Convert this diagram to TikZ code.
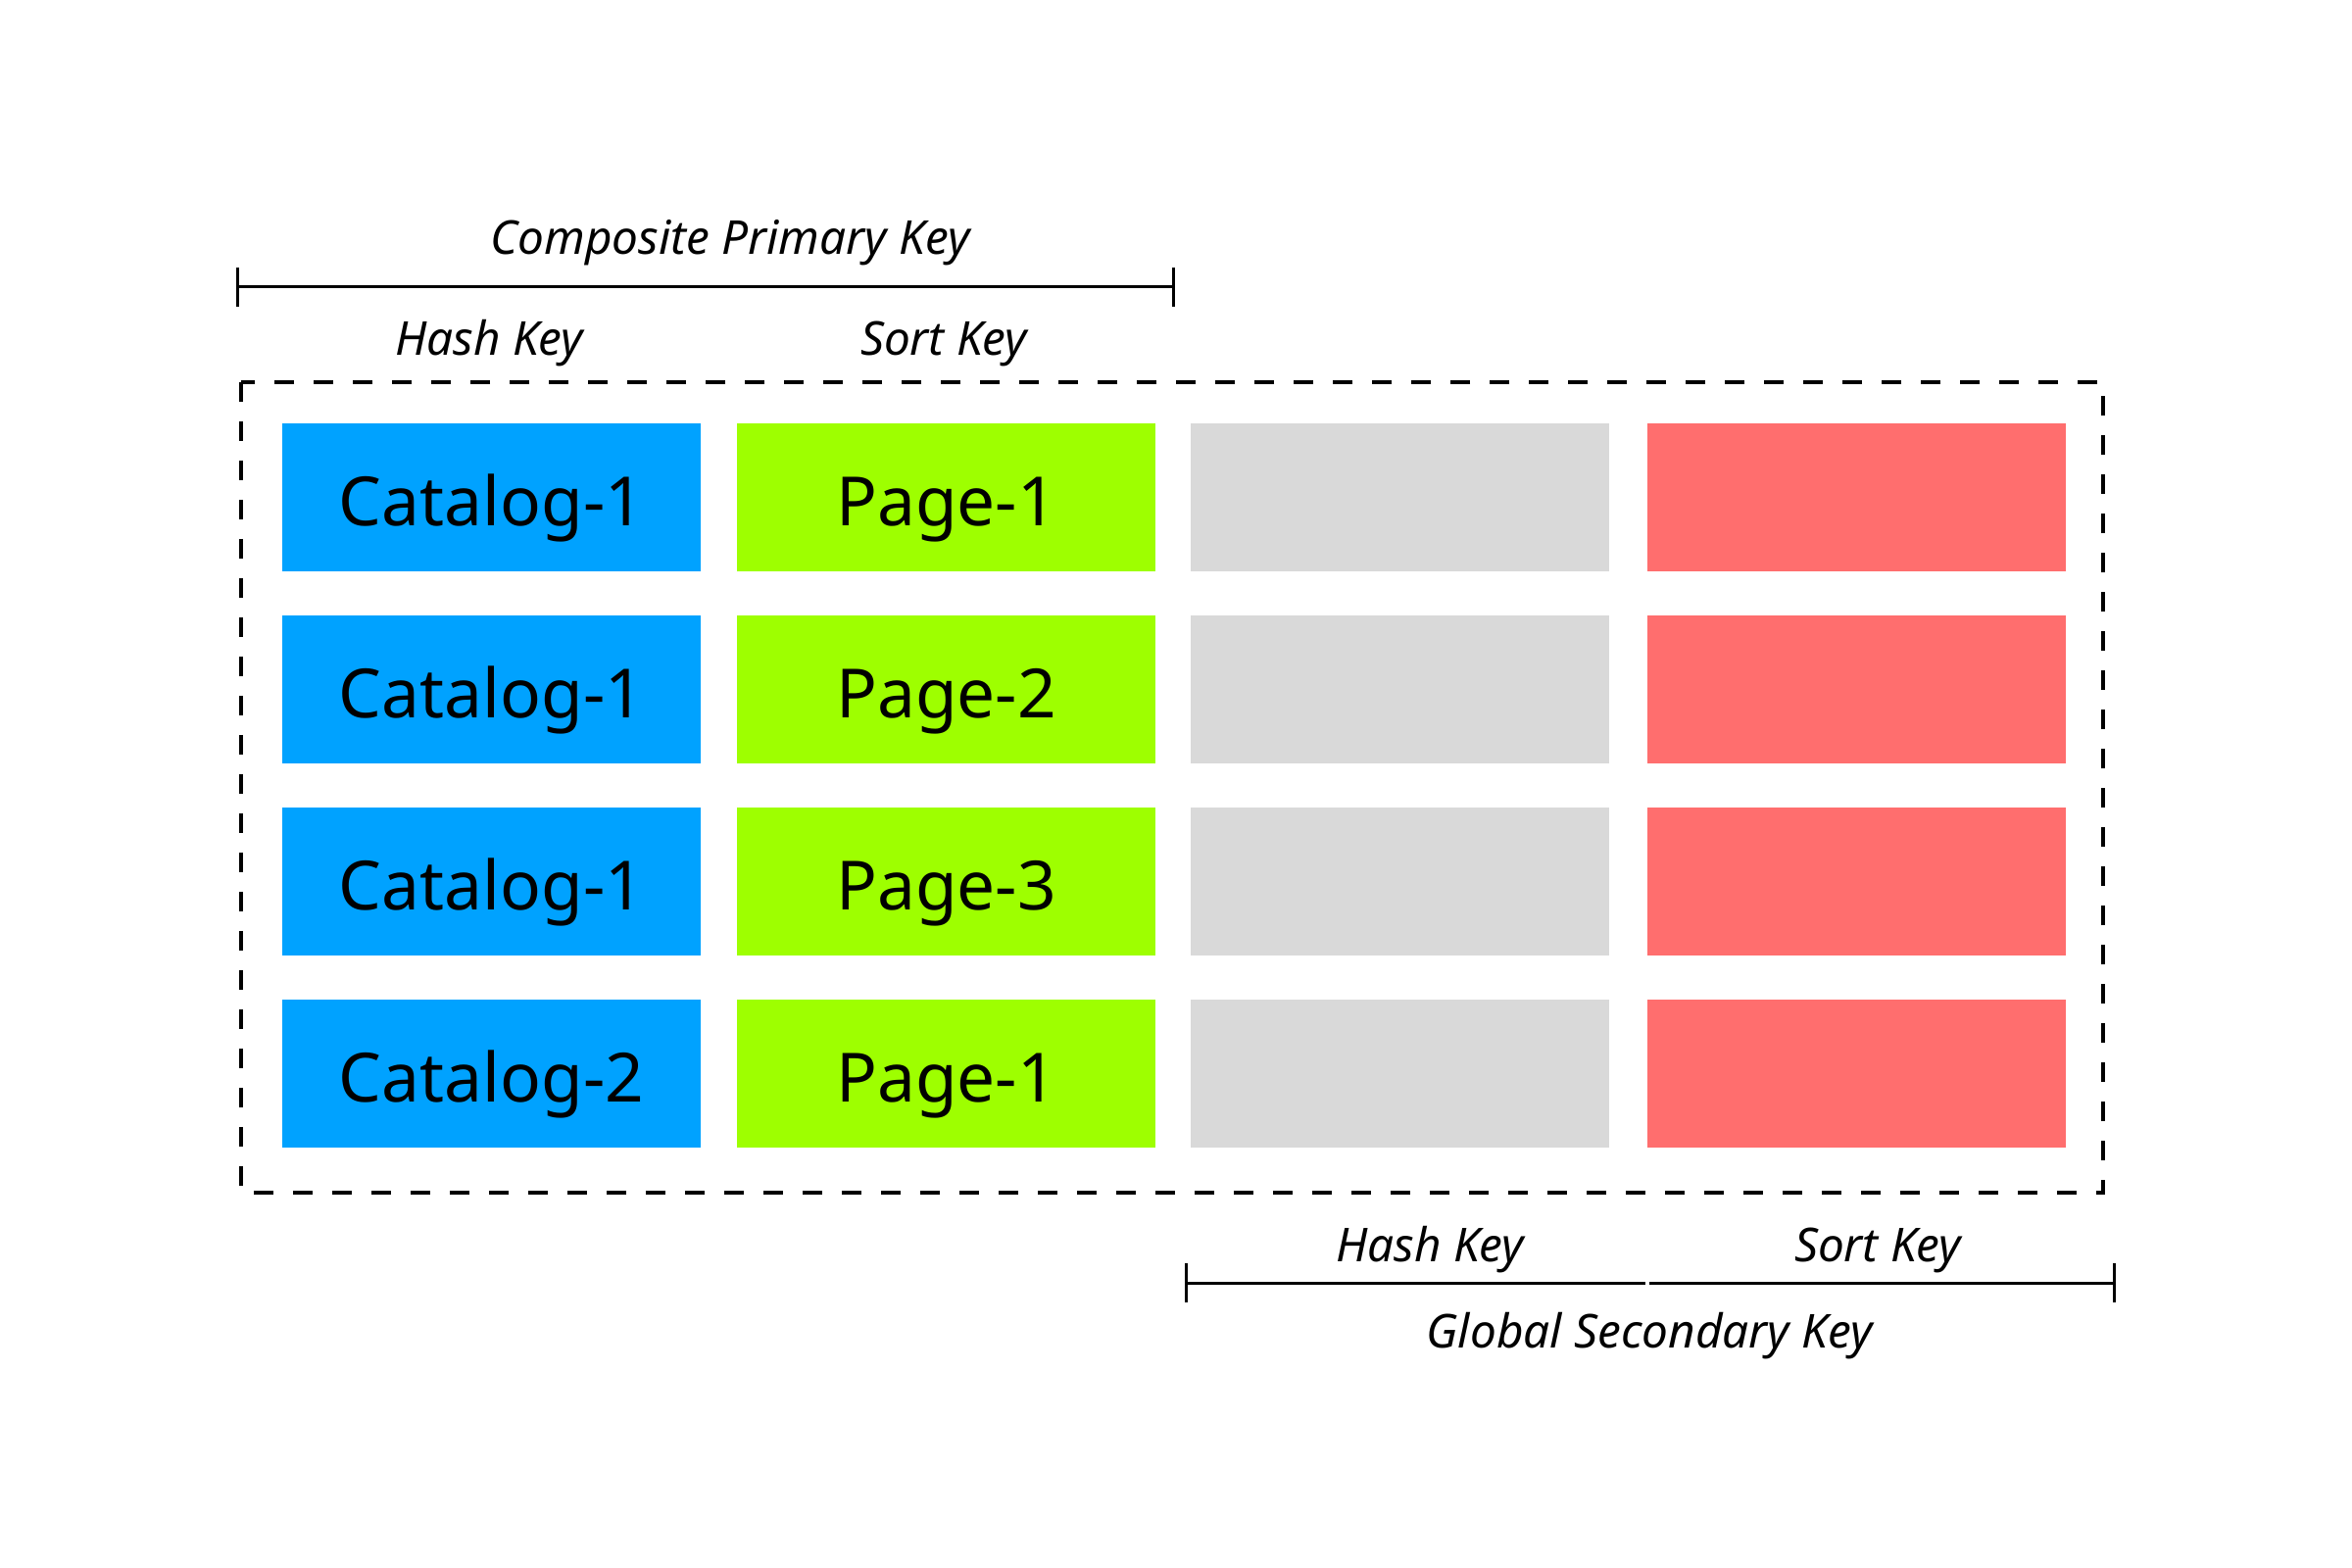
\documentclass[tikz,border=0pt]{standalone}
\usepackage{fontspec}
\setmainfont{Noto Sans}
\definecolor{cblue}{RGB}{0,162,255}
\definecolor{cgreen}{RGB}{158,255,0}
\definecolor{cgrey}{RGB}{217,217,217}
\definecolor{cred}{RGB}{255,110,110}
\begin{document}
\begin{tikzpicture}[x=0.3pt,y=-0.3pt,
  cell/.style={minimum width=128.1pt, minimum height=45.3pt, inner sep=0pt, draw=none,
    text height=17.7pt, text depth=0pt,
    font=\fontsize{20.8}{25}\selectfont, text=black},
  lbl/.style={anchor=base, inner sep=0pt, font=\fontsize{14.3}{17}\selectfont\itshape},
  bracketline/.style={line width=0.9pt},
  frame/.style={dash pattern=on 6pt off 6pt, line width=1.2pt}]
\useasboundingbox (0,0) rectangle (2400,1600);
\fill[white] (0,0) rectangle (2400,1600);

% dashed frame
\coordinate (fTL) at (246,390);
\coordinate (fBR) at (2146,1217);
\draw[frame] (fTL) rectangle (fBR);

% cells
\foreach \r/\y/\a/\b in {1/507.5/Catalog-1/Page-1, 2/703.5/Catalog-1/Page-2, 3/899/Catalog-1/Page-3, 4/1095/Catalog-2/Page-1}{
  \node[cell, fill=cblue] (h\r) at (501.5,\y) {\a};
  \node[cell, fill=cgreen] (s\r) at (965.5,\y) {\b};
  \node[cell, fill=cgrey] (g\r) at (1428.5,\y) {};
  \node[cell, fill=cred] (k\r) at (1894,\y) {};
}

% top bracket
\coordinate (pkL) at (242,293);
\coordinate (pkR) at (1197,293);
\draw[bracketline] (pkL) -- (pkR);
\draw[bracketline] ([yshift=6pt]pkL) -- ([yshift=-6pt]pkL);
\draw[bracketline] ([yshift=6pt]pkR) -- ([yshift=-6pt]pkR);
\node[lbl] (cpk) at (745,260) {Composite Primary Key};
\node[lbl] (hk1) at (499,363) {Hash Key};
\node[lbl] (sk1) at (963,363) {Sort Key};

% bottom bracket
\coordinate (gL) at (1210,1309);
\coordinate (gM1) at (1679,1309);
\coordinate (gM2) at (1683,1309);
\coordinate (gR) at (2157,1309);
\draw[bracketline] (gL) -- (gM1);
\draw[bracketline] (gM2) -- (gR);
\draw[bracketline] ([yshift=6pt]gL) -- ([yshift=-6pt]gL);
\draw[bracketline] ([yshift=6pt]gR) -- ([yshift=-6pt]gR);
\node[lbl] (hk2) at (1459,1287) {Hash Key};
\node[lbl] (sk2) at (1916,1287) {Sort Key};
\node[lbl] (gsk) at (1683,1375) {Global Secondary Key};
\end{tikzpicture}
\end{document}
